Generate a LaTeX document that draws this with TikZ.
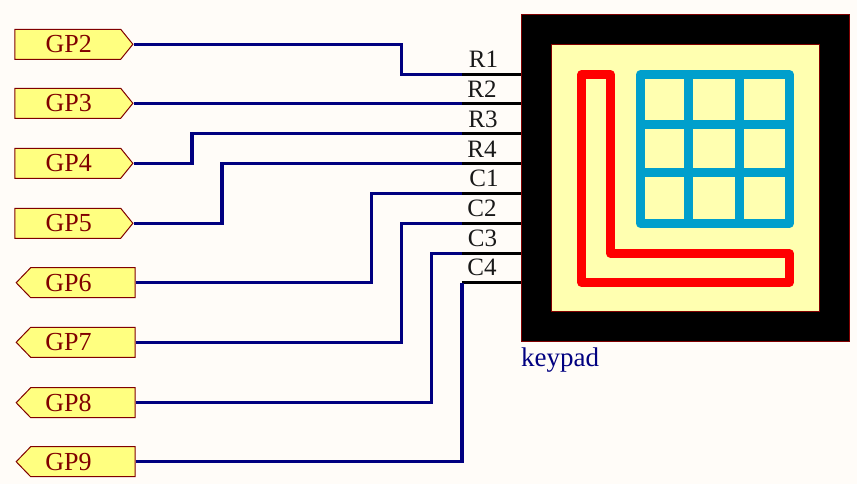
\documentclass[tikz,border=0pt]{standalone}
\usepackage{fontspec}
\setmainfont{Liberation Serif}
\usetikzlibrary{shapes.symbols}
\definecolor{sheet}{HTML}{FFFCF8}
\definecolor{portfill}{HTML}{FFFF80}
\definecolor{bodyfill}{HTML}{FFFFB0}
\definecolor{edge}{HTML}{800000}
\definecolor{net}{HTML}{000080}
\definecolor{grid}{HTML}{009FCC}
\tikzset{
  portbase/.style={signal,draw=edge,fill=portfill,line width=1pt,text=edge,inner sep=0pt,
    minimum height=30pt,font=\fontsize{26}{26}\selectfont},
  portout/.style={portbase,minimum width=118pt,signal to=east,signal pointer angle=102,anchor=east,
    execute at begin node=\hspace{2pt}},
  portin/.style={portbase,minimum width=119pt,signal to=west,signal pointer angle=92,anchor=west,
    execute at end node=\hspace{29pt}},
  wire/.style={draw=net,line width=3.3pt},
  pin/.style={draw=black,line width=3.3pt},
  pinname/.style={font=\fontsize{25}{25}\selectfont,text=black!90,inner sep=0pt},
  plate/.style={draw=edge,line width=1pt,inner sep=0pt},
  glyph/.style={line width=8.7pt,line join=round}
}
\begin{document}
\begin{tikzpicture}[x=1pt,y=-1pt]
  \useasboundingbox[fill=sheet] (0,0) rectangle (857,484);

  % Draw the ports on the left
  \node[portout] (gp2) at (133.5,44.3) {GP2};
  \node[portout] (gp3) at (133.5,103.3) {GP3};
  \node[portout] (gp4) at (133.5,163.3) {GP4};
  \node[portout] (gp5) at (133.5,223.3) {GP5};
  \node[portin] (gp6) at (15.5,282.7) {GP6};
  \node[portin] (gp7) at (15.5,342.3) {GP7};
  \node[portin] (gp8) at (15.5,402.7) {GP8};
  \node[portin] (gp9) at (15.5,461.7) {GP9};

  % Draw the keypad body
  \node[plate,fill=black,minimum width=327.5pt,minimum height=326.5pt] (keypad) at (685.25,177.75) {};
  \node[plate,fill=bodyfill,minimum width=267.5pt,minimum height=267pt] (face) at (685.25,178) {};
  \node[anchor=base west,inner sep=0pt,text=net,font=\fontsize{27}{27}\selectfont] (title) at (521,366) {keypad};

  % Draw the pin ends
  \coordinate (r1) at (462,74.3);
  \coordinate (r2) at (462,103.3);
  \coordinate (r3) at (462,133.3);
  \coordinate (r4) at (462,163.3);
  \coordinate (c1) at (462,193.3);
  \coordinate (c2) at (462,223.3);
  \coordinate (c3) at (462,253.3);
  \coordinate (c4) at (462,282.7);

  \draw[pin] (r1) -- (r1 -| keypad.west);
  \draw[pin] (r2) -- (r2 -| keypad.west);
  \draw[pin] (r3) -- (r3 -| keypad.west);
  \draw[pin] (r4) -- (r4 -| keypad.west);
  \draw[pin] (c1) -- (c1 -| keypad.west);
  \draw[pin] (c2) -- (c2 -| keypad.west);
  \draw[pin] (c3) -- (c3 -| keypad.west);
  \draw[pin] (c4) -- (c4 -| keypad.west);

  \node[pinname] (r1name) at (483.5,59.5) {R1};
  \node[pinname] (r2name) at (482,89) {R2};
  \node[pinname] (r3name) at (483,119) {R3};
  \node[pinname] (r4name) at (482,149) {R4};
  \node[pinname] (c1name) at (484,178.5) {C1};
  \node[pinname] (c2name) at (482,208) {C2};
  \node[pinname] (c3name) at (482.5,238) {C3};
  \node[pinname] (c4name) at (482,267.5) {C4};

  % Draw the nets
  \draw[wire] (gp2.east) -| (401.5,74.3) -- (r1);
  \draw[wire] (gp3.east) -- (r2);
  \draw[wire] (gp4.east) -| (192,133.3) -- (r3);
  \draw[wire] (gp5.east) -| (222,163.3) -- (r4);
  \draw[wire] (gp6.east) -| (371.5,193.3) -- (c1);
  \draw[wire] (gp7.east) -| (401.5,223.3) -- (c2);
  \draw[wire] (gp8.east) -| (431.8,253.3) -- (c3);
  \draw[wire] (gp9.east) -| (c4);

  % Draw the symbol on the face
  \draw[glyph,draw=red] (581.7,74.5) -- (610.5,74.5) -- (610.5,253.5) -- (789.5,253.5)
    -- (789.5,282.5) -- (581.7,282.5) -- cycle;
  \draw[glyph,draw=grid] (640.4,74.5) rectangle (789.5,223.5);
  \draw[glyph,draw=grid] (688.3,74.5) -- (688.3,223.5);
  \draw[glyph,draw=grid] (739.3,74.5) -- (739.3,223.5);
  \draw[glyph,draw=grid] (640.4,124.3) -- (789.5,124.3);
  \draw[glyph,draw=grid] (640.4,172.3) -- (789.5,172.3);
\end{tikzpicture}
\end{document}
